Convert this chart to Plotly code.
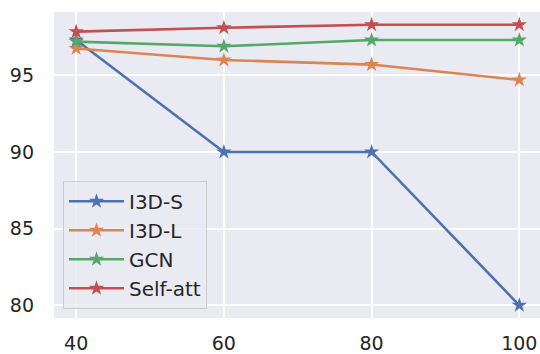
import plotly.graph_objects as go

x_vals = [40, 60, 80, 100]
series_names = ["I3D-S", "I3D-L", "GCN", "Self-att"]
i3d_s = [97.3, 90.0, 90.0, 80.0]
i3d_l = [96.75, 96.0, 95.7, 94.7]
gcn = [97.2, 96.9, 97.3, 97.3]
self_att = [97.85, 98.1, 98.3, 98.3]
colors = ["#4C72B0", "#DD8452", "#55A868", "#C44E52"]
x_ticks = [40, 60, 80, 100]
y_ticks = [80, 85, 90, 95]

fig = go.Figure()
for i, (name, ys) in enumerate(zip(series_names, [i3d_s, i3d_l, gcn, self_att])):
    fig.add_trace(go.Scatter(
        x=x_vals, y=ys, name=name, mode="lines+markers",
        line=dict(color=colors[i], width=2.6),
        marker=dict(symbol="star", size=11.5, color=colors[i]),
        legendgroup=name,
    ))

font_family = "DejaVu Sans, sans-serif"
fig.update_layout(
    width=540, height=354,
    margin=dict(l=54, r=0, t=12, b=36),
    paper_bgcolor="white",
    plot_bgcolor="#EAEAF2",
    font=dict(family=font_family, size=19, color="#262626"),
    showlegend=True,
    legend=dict(
        x=0.0185, y=0.03, xanchor="left", yanchor="bottom",
        bgcolor="rgba(234,234,242,0.8)", bordercolor="#CCCCCC", borderwidth=1,
        font=dict(size=20, color="#262626"),
        traceorder="grouped", tracegroupgap=0, itemwidth=55,
    ),
)
fig.update_xaxes(
    range=[37, 102.8], tickvals=x_ticks, showgrid=True, gridcolor="white", gridwidth=1.5,
    zeroline=False, showline=False, ticks="", ticklabelstandoff=12, automargin=False,
)
fig.update_yaxes(
    range=[79.17, 99.13], tickvals=y_ticks, showgrid=True, gridcolor="white", gridwidth=1.5,
    zeroline=False, showline=False, ticks="", ticklabelstandoff=19, automargin=False,
)
fig.write_html("out.html", config={"displayModeBar": False},
               post_script="document.body.style.margin='0';")
